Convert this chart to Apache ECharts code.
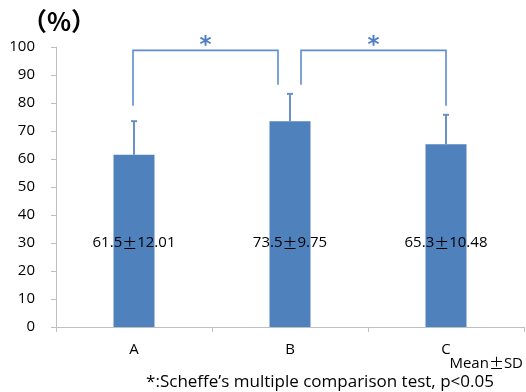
<!DOCTYPE html>
<html><head><meta charset="utf-8">
<script src="https://cdn.jsdelivr.net/npm/echarts@6/dist/echarts.min.js"></script>
<style>html,body{margin:0;padding:0;background:#fff}#c{width:526px;height:392px}</style>
</head><body><div id="c"></div>
<script>
// ---- data ----
const categories = ['A', 'B', 'C'];
const means = [61.5, 73.5, 65.3];
const sds = [12.01, 9.75, 10.48];
const labelLevel = 30;            // value level at which the mean±SD texts sit
const yMin = 0, yMax = 100, yStep = 10;
// significance brackets: [fromIndex, toIndex, fromLegBottom, topLevel, toLegBottom]
const brackets = [[0, 1, 79, 98.8, 86.5], [1, 2, 86.5, 98.8, 79]];
const sigMark = '*';
const unitText = '（%）';
const footText = '*:Scheffe’s multiple comparison test, p<0.05';

// ---- style ----
const FONT = 'Open Sans';
const CJK = 'Noto Sans CJK JP';
const barColor = '#4F81BD';
const errColor = '#6A92C8';
const brColor = '#5D8CCF';
const axisColor = '#BFBFBF';

// text with full-width ± like the original
function pmRich(a, b) { return '{a|' + a + '}{b|±}{a|' + b + '}'; }
const valueLabels = means.map((m, i) => pmRich(m.toFixed(1), sds[i].toFixed(2)));
function richStyle(size) {
  return {
    a: {fontFamily: FONT, fontSize: size, fill: '#000', color: '#000'},
    b: {fontFamily: CJK, fontSize: size, fill: '#000', color: '#000'}
  };
}

const chart = echarts.init(document.getElementById('c'), null, {renderer: 'canvas'});
const option = {
  animation: false,
  backgroundColor: '#fff',
  grid: {left: 56, right: 2, top: 47, bottom: 65, containLabel: false},
  xAxis: {
    type: 'category', data: categories,
    axisLine: {lineStyle: {color: axisColor, width: 1}},
    axisTick: {show: true, length: 5, lineStyle: {color: axisColor}},
    axisLabel: {color: '#000', fontFamily: FONT, fontSize: 15, margin: 15}
  },
  yAxis: {
    type: 'value', min: yMin, max: yMax, interval: yStep,
    axisLine: {show: true, lineStyle: {color: axisColor, width: 1}},
    axisTick: {show: true, length: 5, lineStyle: {color: axisColor}},
    splitLine: {show: false},
    axisLabel: {color: '#000', fontFamily: FONT, fontSize: 15, margin: 21}
  },
  series: [
    {
      type: 'bar', data: means, barWidth: 41,
      itemStyle: {color: barColor}, z: 2
    },
    {
      type: 'custom', z: 3,
      data: means.map((m, i) => [i, m, sds[i]]),
      encode: {x: 0, y: 1},
      renderItem: function (params, api) {
        const i = api.value(0), m = api.value(1), s = api.value(2);
        const b = api.coord([i, m]);
        const t = api.coord([i, m + s]);
        return {type: 'group', children: [
          {type: 'line', shape: {x1: b[0], y1: b[1], x2: t[0], y2: t[1]}, style: {stroke: errColor, lineWidth: 2}},
          {type: 'line', shape: {x1: t[0] - 3, y1: t[1], x2: t[0] + 3, y2: t[1]}, style: {stroke: errColor, lineWidth: 2}}
        ]};
      }
    },
    {
      type: 'custom', z: 4,
      data: means.map((m, i) => [i, labelLevel]),
      encode: {x: 0, y: 1},
      renderItem: function (params, api) {
        const p = api.coord([api.value(0), api.value(1)]);
        return {type: 'text', x: p[0], y: p[1], style: {
          text: valueLabels[params.dataIndex], rich: richStyle(15), fill: '#000',
          align: 'center', verticalAlign: 'middle'}};
      }
    },
    {
      type: 'custom', z: 5, clip: false,
      data: brackets,
      encode: {x: 0, y: 3},
      renderItem: function (params, api) {
        const a = api.value(0), c = api.value(1);
        const p1 = api.coord([a, api.value(2)]);
        const pt1 = api.coord([a, api.value(3)]);
        const pt2 = api.coord([c, api.value(3)]);
        const p2 = api.coord([c, api.value(4)]);
        // shift legs that land on the middle bar so the two brackets do not touch
        const dx1 = a === 1 ? 11 : -1;
        const dx2 = c === 1 ? -12 : 0;
        const x1 = p1[0] + dx1, x2 = p2[0] + dx2;
        return {type: 'group', children: [
          {type: 'polyline', shape: {points: [[x1, p1[1]], [x1, pt1[1]], [x2, pt2[1]], [x2, p2[1]]]},
           style: {stroke: brColor, lineWidth: 1.6, fill: null}},
          {type: 'text', x: (x1 + x2) / 2, y: pt1[1] - 4, style: {
            text: sigMark, fill: '#4F7FC4', font: 'bold 23px "DejaVu Sans"',
            align: 'center', verticalAlign: 'middle'}}
        ]};
      }
    }
  ],
  graphic: [
    {type: 'text', left: 22, top: 9, style: {text: unitText, font: 'bold 25px "' + CJK + '"', fill: '#000'}},
    {type: 'text', right: 3, top: 356, style: {text: '{a|Mean}{b|±}{a|SD}', rich: richStyle(15), fill: '#000'}},
    {type: 'text', x: 320, y: 382, style: {text: footText, font: '17px "' + FONT + '"', fill: '#000', align: 'center', verticalAlign: 'middle'}}
  ]
};
chart.setOption(option);
</script></body></html>
